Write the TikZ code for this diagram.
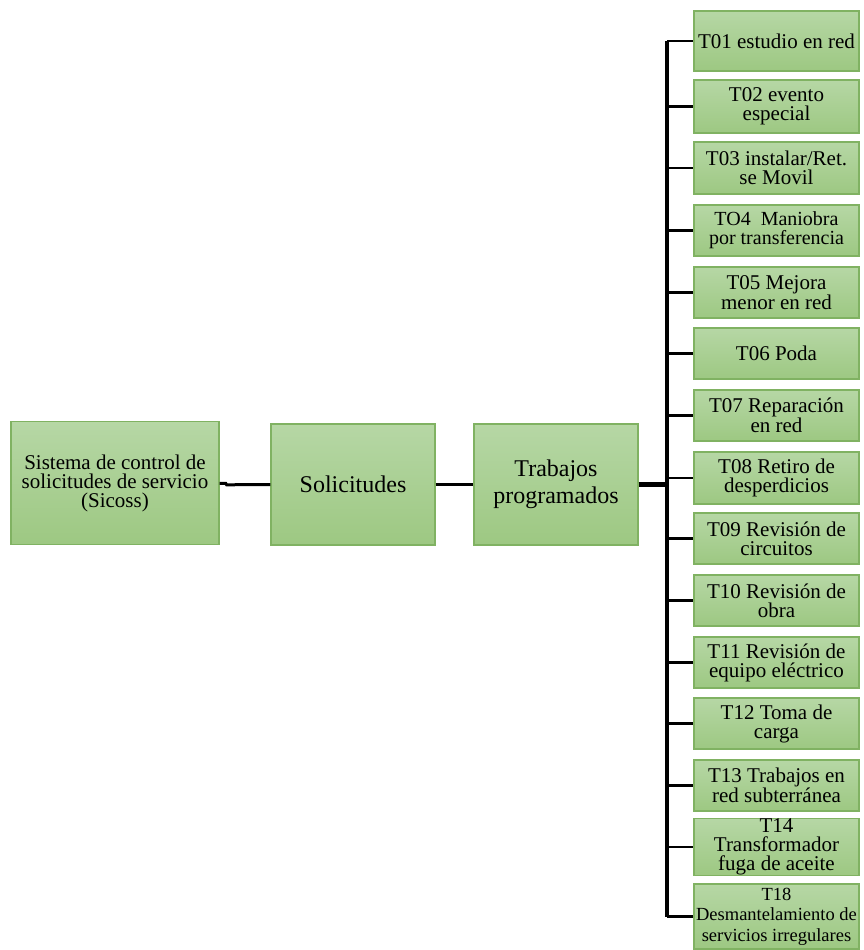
\documentclass[tikz,border=0pt]{standalone}
\usepackage{fontspec}
\setmainfont{Liberation Serif}
\usetikzlibrary{calc}
\definecolor{gtop}{RGB}{182,215,165}
\definecolor{gbot}{RGB}{157,200,130}
\definecolor{gline}{RGB}{128,178,98}
\begin{document}
\begin{tikzpicture}[x=1pt,y=-1pt,
  box/.style={draw=gline, line width=1.3pt, top color=gtop, bottom color=gbot,
    inner sep=0pt, align=center, font=\fontsize{21}{19}\selectfont},
  rbox/.style={box, minimum width=165pt},
  conn/.style={line width=3pt, black},
  trunk/.style={line width=5pt, black},
  branch/.style={line width=2.6pt, black}]
\useasboundingbox (0,0) rectangle (863,950);

% main chain
\node[box, minimum width=208pt, minimum height=123pt] (b1) at (115,483.3)
  {Sistema de control de\\solicitudes de servicio\\(Sicoss)};
\node[box, minimum width=164pt, minimum height=121pt,
  font=\fontsize{24}{27}\selectfont] (b2) at (353,484.5) {Solicitudes};
\node[box, minimum width=164pt, minimum height=121pt,
  font=\fontsize{24}{27}\selectfont] (b3) at (556,484.5) {Trabajos\\programados};

% right column
\node[rbox, minimum height=60pt] (t01) at (776.5,41) {T01 estudio en red};
\node[rbox, minimum height=53pt] (t02) at (776.5,106.5) {T02 evento\\especial};
\node[rbox, minimum height=52pt] (t03) at (776.5,168) {T03 instalar/Ret.\\se Movil};
\node[rbox, minimum height=51pt, font=\fontsize{20}{19}\selectfont] (t04) at (776.5,230.5) {TO4~~Maniobra\\por transferencia};
\node[rbox, minimum height=51pt] (t05) at (776.5,292.5) {T05 Mejora\\menor en red};
\node[rbox, minimum height=51pt] (t06) at (776.5,353.5) {T06 Poda};
\node[rbox, minimum height=51pt] (t07) at (776.5,415.5) {T07 Reparación\\en red};
\node[rbox, minimum height=52pt] (t08) at (776.5,478) {T08 Retiro de\\desperdicios};
\node[rbox, minimum height=51pt] (t09) at (776.5,538.5) {T09 Revisión de\\circuitos};
\node[rbox, minimum height=51pt] (t10) at (776.5,600.5) {T10 Revisión de\\obra};
\node[rbox, minimum height=51pt] (t11) at (776.5,662.5) {T11 Revisión de\\equipo eléctrico};
\node[rbox, minimum height=51pt] (t12) at (776.5,723.5) {T12 Toma de\\carga};
\node[rbox, minimum height=51pt] (t13) at (776.5,785.5) {T13 Trabajos en\\red subterránea};
\node[rbox, minimum height=50pt] (t14) at (776.5,847) {T14\\Transformador\\fuga de aceite};
\node[rbox, minimum height=65pt, font=\fontsize{18.5}{20.5}\selectfont] (t18) at (776.5,916.5) {T18\\Desmantelamiento de\\servicios irregulares};

% connectors
\coordinate (spine) at (667,0);
\draw[conn] (b1.east) -- ++(6,0) -- ++(1,1.5) -- (b2.west);
\draw[conn] (b2.east) -- (b3.east -| b3.west);
\draw[trunk] (b3.east) -- (b3.east -| spine);
\draw[line width=3.2pt] (spine |- t01.west) -- (spine |- t18.west);
\foreach \n in {t01,t02,t03,t04,t05,t06,t07,t08,t09,t10,t11,t12,t13,t14,t18}
  \draw[branch] (\n.west -| spine) -- (\n.west);
\end{tikzpicture}
\end{document}
